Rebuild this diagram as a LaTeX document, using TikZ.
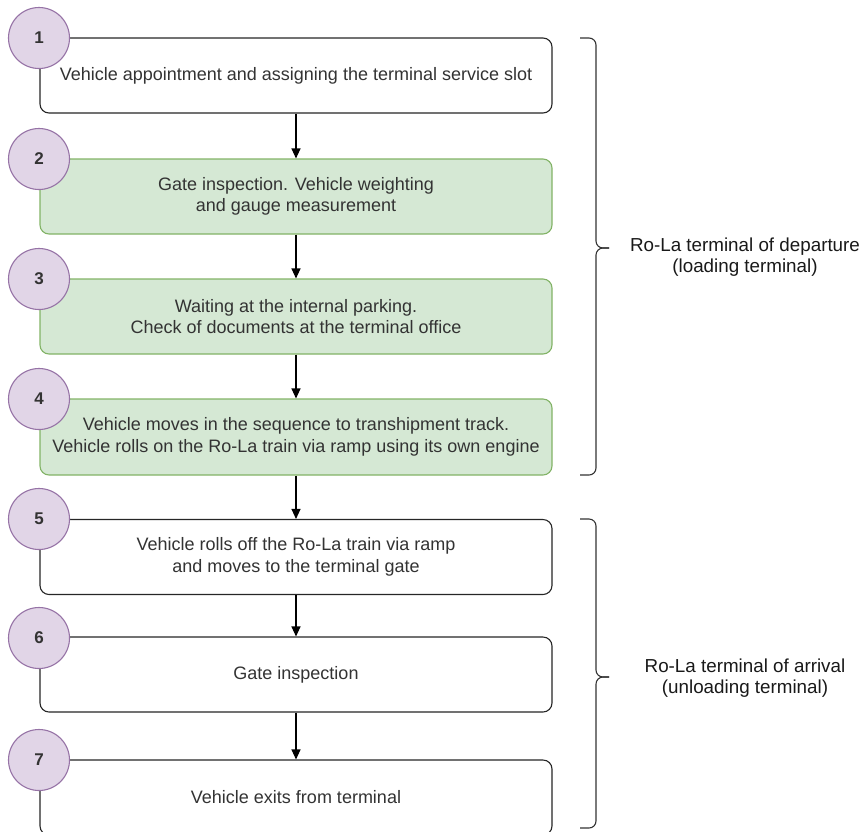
\documentclass[tikz,border=0pt]{standalone}
\usepackage{fontspec}
\setmainfont{Liberation Sans}
\usetikzlibrary{arrows.meta}
\definecolor{gfill}{HTML}{D5E8D4}
\definecolor{gline}{HTML}{82B366}
\definecolor{pfill}{HTML}{E1D5E7}
\definecolor{pline}{HTML}{9673A6}
\definecolor{txt}{HTML}{333333}
\tikzset{
  stepbox/.style={draw=black!85, line width=1.1pt, rounded corners=9pt, fill=white,
    minimum width=512pt, minimum height=75pt, align=center, inner sep=0pt,
    text=txt, font=\fontsize{18}{21.5}\selectfont},
  greenbox/.style={stepbox, draw=gline, fill=gfill},
  numcircle/.style={circle, draw=pline, fill=pfill, line width=1.1pt, minimum size=61pt,
    inner sep=0pt, text=txt, font=\bfseries\fontsize{17}{20}\selectfont},
  flow/.style={draw=black, line width=1.1pt, -{Triangle[length=10pt,width=9pt]}},
  bracestyle/.style={draw=black!80, line width=1.1pt, rounded corners=7pt},
  bracelabel/.style={align=center, text=black!90, font=\fontsize{18.8}{20.5}\selectfont}
}
\begin{document}
\begin{tikzpicture}[x=1pt,y=-1pt]
\useasboundingbox (0,0) rectangle (867,831);
% boxes
\node[stepbox]  (b1) at (296,75.5) {Vehicle appointment and assigning the terminal service slot};
\node[greenbox] (b2) at (296,196.5) {Gate inspection. Vehicle weighting\\and gauge measurement};
\node[greenbox] (b3) at (296,316.5) {Waiting at the internal parking.\\Check of documents at the terminal office};
\node[greenbox, minimum height=76pt] (b4) at (296,437) {Vehicle moves in the sequence to transhipment track.\\Vehicle rolls on the Ro-La train via ramp using its own engine};
\node[stepbox]  (b5) at (296,557) {Vehicle rolls off the Ro-La train via ramp\\and moves to the terminal gate};
\node[stepbox]  (b6) at (296,674.5) {Gate inspection};
\node[stepbox]  (b7) at (296,797.5) {Vehicle exits from terminal};
% arrows
\foreach \a/\b in {b1/b2,b2/b3,b3/b4,b4/b5,b5/b6,b6/b7}{
  \draw[flow] (\a.south) -- (\b.north);
}
% number circles
\node[numcircle] (c1) at (39,38) {1};
\node[numcircle] (c2) at (39,159) {2};
\node[numcircle] (c3) at (39,279) {3};
\node[numcircle] (c4) at (39,399) {4};
\node[numcircle] (c5) at (39,519) {5};
\node[numcircle] (c6) at (39,638) {6};
\node[numcircle] (c7) at (39,760) {7};
% braces
\coordinate (t1) at (580,38);
\coordinate (t2) at (580,475);
\coordinate (tm) at (596,248);
\coordinate (tt) at (609,248);
\draw[bracestyle] (t1) -| (tm) -- (tt);
\draw[bracestyle] (t2) -| (tm) -- (tt);
\node[bracelabel] (l1) at (745,257) {Ro-La terminal of departure\\(loading terminal)};
\coordinate (u1) at (580,519);
\coordinate (u2) at (580,828);
\coordinate (um) at (596,677);
\coordinate (ut) at (609,677);
\draw[bracestyle] (u1) -| (um) -- (ut);
\draw[bracestyle] (u2) -| (um) -- (ut);
\node[bracelabel] (l2) at (745,678) {Ro-La terminal of arrival\\(unloading terminal)};
\end{tikzpicture}
\end{document}
